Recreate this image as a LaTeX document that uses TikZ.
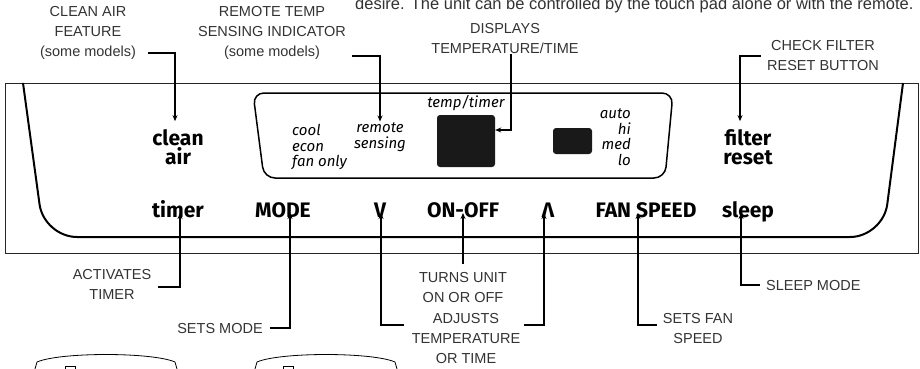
\documentclass[tikz,border=0pt]{standalone}
\usepackage{fontspec}
\setmainfont{Liberation Sans}
\newfontfamily\keyfont{Fira Sans}
\usetikzlibrary{arrows.meta}

\begin{document}
\begin{tikzpicture}[x=1pt,y=-1pt,
  callout/.style={align=center,inner sep=0pt,text=black!80,
    font=\fontsize{14.5}{20}\selectfont},
  key/.style={align=center,inner sep=0pt,
    font=\keyfont\bfseries\fontsize{21}{19}\selectfont},
  lamp/.style={align=left,inner sep=0pt,
    font=\keyfont\itshape\fontsize{15}{15.5}\selectfont},
  lead/.style={line width=1.6pt,-{Stealth[length=6pt,width=5pt]}}]
  \clip (0,0) rectangle (920,368);

  % text cut off at the top
  \node[anchor=base west,inner sep=0pt,text=black!80,font=\fontsize{16.5}{20}\selectfont]
    (intro) at (355,9) {desire. The unit can be controlled by the touch pad alone or with the remote.};

  % control panel
  \draw[line width=1pt,black!85] (5,83) rectangle (918,253);
  \draw[line width=2pt,rounded corners=33pt] (23,83) -- (44,237) -- (883,237) -- (903,83);
  \draw[line width=1.5pt,rounded corners=11pt] (253,93) -- (673,93) -- (665,178) -- (264,178) -- cycle;
  \node[fill=black!90,rounded corners=3pt,minimum width=58pt,minimum height=52pt,inner sep=0pt]
    (tempbox) at (466,141) {};
  \node[fill=black!90,rounded corners=3pt,minimum width=39pt,minimum height=26pt,inner sep=0pt]
    (fanbox) at (572.5,141) {};

  % lamps in the window
  \node[lamp,anchor=west] (modes) at (292,147) {cool\\econ\\fan only};
  \node[lamp,align=center] (remote) at (380,137) {remote\\sensing};
  \node[lamp] (temptimer) at (466,103) {temp/timer};
  \node[lamp,align=right,anchor=east] (speeds) at (631,137) {auto\\hi\\med\\lo};

  % keys
  \node[key] (cleanair) at (178,147) {clean\\air};
  \node[key] (filter) at (748,147) {filter\\reset};
  \node[key,anchor=base] (timer) at (178,217) {timer};
  \node[key,anchor=base] (mode) at (283,217) {MODE};
  \node[key,anchor=base] (down) at (380,217) {V};
  \node[key,anchor=base] (onoff) at (463,217) {ON-OFF};
  \node[key,anchor=base] (up) at (548,217) {Λ};
  \node[key,anchor=base] (fanspeed) at (646,217) {FAN SPEED};
  \node[key,anchor=base] (sleep) at (748,217) {sleep};

  % callouts
  \node[callout] (cleanfeat) at (88,33) {CLEAN AIR\\FEATURE\\(some models)};
  \node[callout] (remotefeat) at (272,33) {REMOTE TEMP\\SENSING INDICATOR\\(some models)};
  \node[callout] (displays) at (505,39) {DISPLAYS\\TEMPERATURE/TIME};
  \node[callout] (checkfilt) at (823,56) {CHECK FILTER\\RESET BUTTON};
  \node[callout] (activates) at (112,284) {ACTIVATES\\TIMER};
  \node[callout] (setsmode) at (220,328) {SETS MODE};
  \node[callout] (turns) at (463,287) {TURNS UNIT\\ON OR OFF};
  \node[callout] (adjusts) at (466,338) {ADJUSTS\\TEMPERATURE\\OR TIME};
  \node[callout] (setsfan) at (698,328) {SETS FAN\\SPEED};
  \node[callout,anchor=west] (sleepmode) at (766,285) {SLEEP MODE};

  \draw[lead] ([shift={(12pt,7pt)}]cleanfeat.south east) -| ([xshift=-3pt,yshift=8pt]cleanair.north);
  \draw[lead] ([shift={(6pt,4pt)}]remotefeat.south east) -| ([yshift=1pt]remote.north);
  \draw[lead] ([xshift=6pt]displays.south) |- ([yshift=11pt]tempbox.east);
  \draw[lead] ([xshift=-6pt]checkfilt.west) -| ([xshift=-8pt,yshift=8pt]filter.north);
  \draw[lead] ([xshift=7pt,yshift=-3pt]activates.east) -| ([xshift=2pt,yshift=4pt]timer.base);
  \draw[lead] ([xshift=7pt]setsmode.east) -| ([xshift=7pt,yshift=4pt]mode.base);
  \draw[lead] ([shift={(-8pt,13pt)}]adjusts.west) -| ([xshift=1pt,yshift=4pt]down.base);
  \draw[lead] ([shift={(4pt,13pt)}]adjusts.east) -| ([xshift=-4pt,yshift=4pt]up.base);
  \draw[lead] ([yshift=8pt]turns.north) -- ([yshift=4pt]onoff.base);
  \draw[lead] ([shift={(-6pt,3pt)}]setsfan.west) -| ([xshift=-8pt,yshift=4pt]fanspeed.base);
  \draw[lead] ([xshift=-6pt]sleepmode.west) -| ([xshift=-7pt,yshift=4pt]sleep.base);

  % tops of the next drawings
  \draw[line width=0.8pt] (35,369) -- (37,362) .. controls (60,352) and (152,352) .. (175,362) -- (177,369);
  \draw[line width=0.8pt] (65,369) -- (65,366) -- (75,366) -- (75,369);
  \draw[line width=0.8pt] (255,369) -- (257,362) .. controls (280,352) and (372,352) .. (395,362) -- (397,369);
  \draw[line width=0.8pt] (283,369) -- (283,366) -- (293,366) -- (293,369);
\end{tikzpicture}
\end{document}
